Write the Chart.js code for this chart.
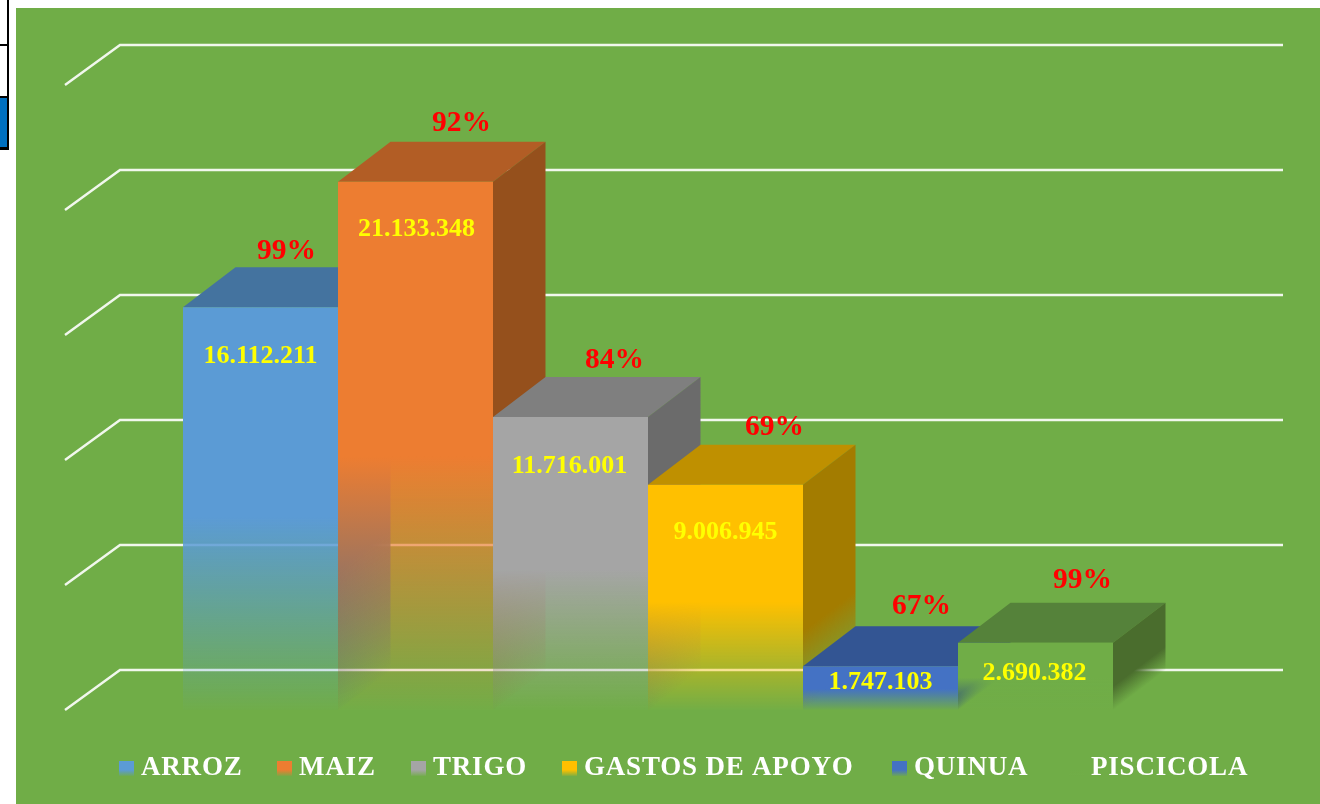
<!DOCTYPE html>
<html>
<head>
<meta charset="utf-8">
<script src="https://cdn.jsdelivr.net/npm/chart.js@4"></script>
<style>
html,body{margin:0;padding:0;background:#fff;overflow:hidden;width:1320px;height:804px}
#c{position:absolute;left:16px;top:8px;display:block;background:#70ad47}
.f{position:absolute}
</style>
</head>
<body>
<div class="f" style="left:7px;top:0;width:2px;height:150px;background:#000"></div>
<div class="f" style="left:0;top:44px;width:8px;height:2px;background:#000"></div>
<div class="f" style="left:0;top:96px;width:8px;height:2px;background:#000"></div>
<div class="f" style="left:0;top:98px;width:7px;height:49px;background:#0070c0"></div>
<div class="f" style="left:0;top:147px;width:9px;height:3px;background:#000"></div>
<canvas id="c" width="1304" height="796"></canvas>
<script>
const seriesNames = ["ARROZ","MAIZ","TRIGO","GASTOS DE APOYO","QUINUA","PISCICOLA"];
const seriesValues = [16112211,21133348,11716001,9006945,1747103,2690382];
const valueLabels = ["16.112.211","21.133.348","11.716.001","9.006.945","1.747.103","2.690.382"];
const percentLabels = ["99%","92%","84%","69%","67%","99%"];
const frontColors = ["#5b9bd5","#ed7d31","#a5a5a5","#ffc000","#4472c4","#70ad47"];
const topColors = ["#44739f","#b25d25","#7f7f7f","#bf9000","#335593","#55823a"];
const sideColors = ["#3d6a94","#95501c","#6b6b6b","#a37c00","#2c4a80","#4a6d2d"];
const yTicks = [0,5000000,10000000,15000000,20000000,25000000];

// label placement relative to each bar (centre x, top y)
const valueOffsets = [[0,49],[1,48],[-1,49],[0,47],[0,16],[-1,31]];
const percentOffsets = [[26,-56],[46,-58],[44,-57],[49,-57],[41,-60],[47,-62]];
// legend swatch positions along the bottom row
const legendX = [103,261,395,546,876,1053];

const DEPTH_X = 52.5, DEPTH_Y = -40, GRID_X = 55, FADE_START = 0.52, SIDE_FADE_START = 0.65, FADE_END_ALPHA = 0.02;

function rgba(hex,a){
  const n=parseInt(hex.slice(1),16);
  return `rgba(${n>>16},${(n>>8)&255},${n&255},${a})`;
}
function addFade(g,hex,start){
  g.addColorStop(0,rgba(hex,1));
  g.addColorStop(start,rgba(hex,1));
  g.addColorStop(1,rgba(hex,FADE_END_ALPHA));
  return g;
}
function frontFill(c){
  const hex=frontColors[c.datasetIndex];
  if(c.raw===undefined) return hex;
  const y=c.chart.scales.y;
  const y0=y.getPixelForValue(c.raw),y1=y.getPixelForValue(0);
  if(!isFinite(y0)||!isFinite(y1)) return hex;
  return addFade(c.chart.ctx.createLinearGradient(0,y0,0,y1),hex,FADE_START);
}

const solid3D = {
  id:'solid3D',
  beforeDatasetsDraw(chart){
    const {ctx,chartArea,scales}=chart;
    ctx.save();
    // back wall gridlines + floor diagonals
    ctx.strokeStyle='rgba(255,255,255,0.9)';
    ctx.lineWidth=2.4;
    yTicks.forEach(t=>{
      const py=scales.y.getPixelForValue(t);
      ctx.beginPath();
      ctx.moveTo(chartArea.left,py);
      ctx.lineTo(chartArea.left+GRID_X,py+DEPTH_Y);
      ctx.lineTo(chartArea.right+52,py+DEPTH_Y);
      ctx.stroke();
    });
    // painter's order: left to right
    seriesNames.forEach((_,i)=>{
      const meta=chart.getDatasetMeta(i);
      const el=meta.data[0];
      const l=el.x-el.width/2,r=el.x+el.width/2,t=el.y,b=el.base;
      // top face
      ctx.fillStyle=topColors[i];
      ctx.beginPath();
      ctx.moveTo(l,t);ctx.lineTo(l+DEPTH_X,t+DEPTH_Y);ctx.lineTo(r+DEPTH_X,t+DEPTH_Y);ctx.lineTo(r,t);
      ctx.closePath();ctx.fill();
      // side face, fading along iso-lines parallel to the depth direction
      const h=b-t,k=h*DEPTH_X/(DEPTH_X*DEPTH_X+DEPTH_Y*DEPTH_Y);
      const g=ctx.createLinearGradient(r,t,r+(-DEPTH_Y)*k,t+DEPTH_X*k);
      ctx.fillStyle=addFade(g,sideColors[i],SIDE_FADE_START);
      ctx.beginPath();
      ctx.moveTo(r,t);ctx.lineTo(r+DEPTH_X,t+DEPTH_Y);ctx.lineTo(r+DEPTH_X,b+DEPTH_Y);ctx.lineTo(r,b);
      ctx.closePath();ctx.fill();
      // front face from the library
      meta.controller.draw();
    });
    ctx.restore();
    return false;
  },
  afterDraw(chart){
    const {ctx}=chart;
    ctx.save();
    ctx.textAlign='center';ctx.textBaseline='middle';
    seriesNames.forEach((_,i)=>{
      const el=chart.getDatasetMeta(i).data[0];
      ctx.font='bold 26px "Liberation Serif"';
      ctx.fillStyle='#ffff00';
      ctx.fillText(valueLabels[i],el.x+valueOffsets[i][0],el.y+valueOffsets[i][1]);
      ctx.font='bold 29.5px "Liberation Serif"';
      ctx.fillStyle='#ff0000';
      ctx.fillText(percentLabels[i],el.x+percentOffsets[i][0],el.y+percentOffsets[i][1]);
    });
    // legend
    ctx.textAlign='left';
    ctx.font='bold 27px "Liberation Serif"';
    ctx.letterSpacing='0.8px';
    const cy=759;
    seriesNames.forEach((name,i)=>{
      const x=legendX[i];
      const g=ctx.createLinearGradient(0,cy-6,0,cy+9);
      g.addColorStop(0,frontColors[i]);g.addColorStop(0.6,frontColors[i]);g.addColorStop(1,rgba(frontColors[i],0.1));
      ctx.fillStyle=g;
      ctx.fillRect(x,cy-6,15,15);
      ctx.fillStyle='#ffffff';
      ctx.fillText(name,x+22,cy+1);
    });
    ctx.restore();
  }
};

const chart = new Chart(document.getElementById('c'),{
  type:'bar',
  data:{
    labels:[""],
    datasets:seriesNames.map((n,i)=>({label:n,data:[seriesValues[i]],backgroundColor:frontFill,borderWidth:0}))
  },
  options:{
    responsive:false,
    animation:false,
    events:[],
    layout:{padding:{left:49,right:89,top:77,bottom:94}},
    datasets:{bar:{barPercentage:1,categoryPercentage:0.7976}},
    plugins:{legend:{display:false},tooltip:{enabled:false}},
    scales:{
      x:{display:false},
      y:{display:false,min:0,max:25000000,ticks:{stepSize:5000000}}
    }
  },
  plugins:[solid3D]
});
</script>
</body>
</html>
